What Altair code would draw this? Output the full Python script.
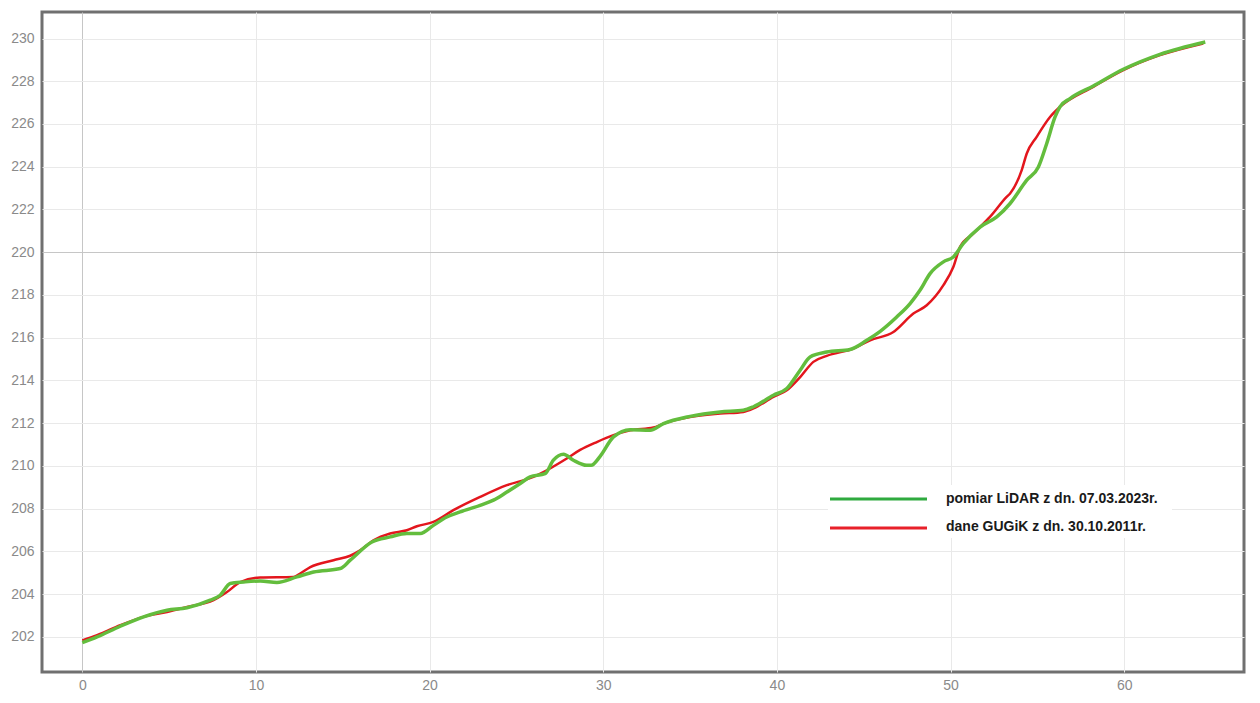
import altair as alt
import pandas as pd

# LiDAR survey (green)
lidar_x = [0, 0.85, 2.19, 3.53, 4.88, 6.03, 7.37, 7.94, 8.52, 9.29, 10.25, 11.21, 12.36,
           13.32, 14.85, 15.43, 16.68, 17.73, 18.69, 19.46, 20.22, 20.99, 21.76, 22.91,
           23.68, 24.45, 25.22, 25.79, 26.65, 27.13, 27.71, 28.28, 29.05, 29.3, 29.82,
           30.59, 31.55, 32.7, 33.47, 35.0, 36.73, 38.07, 38.65, 39.8, 40.57, 41.34,
           41.91, 42.87, 44.21, 45.18, 45.95, 46.9, 47.67, 48.24, 48.82, 49.59, 50.16,
           50.74, 51.7, 52.66, 53.43, 54.39, 55.06, 55.54, 56.02, 56.3, 56.88, 58.22,
           59.95, 62.06, 64.67]
lidar_y = [201.73, 202.0, 202.5, 202.94, 203.25, 203.37, 203.72, 203.95, 204.5, 204.57,
           204.62, 204.55, 204.81, 205.04, 205.2, 205.59, 206.44, 206.68, 206.84, 206.84,
           207.22, 207.61, 207.85, 208.16, 208.4, 208.78, 209.18, 209.49, 209.64, 210.27,
           210.55, 210.27, 210.03, 210.03, 210.45, 211.36, 211.7, 211.67, 211.98, 212.32,
           212.53, 212.61, 212.77, 213.31, 213.62, 214.48, 215.1, 215.33, 215.45, 215.88,
           216.3, 216.97, 217.6, 218.22, 219.0, 219.55, 219.78, 220.41, 221.18, 221.65,
           222.28, 223.37, 223.99, 225.09, 226.33, 226.8, 227.19, 227.78, 228.56, 229.26,
           229.84]

# GUGiK data (red)
gugik_x = [0, 0.85, 2.19, 3.53, 4.88, 6.03, 7.56, 8.33, 9.1, 10.25, 12.16, 12.55, 13.13,
           14.47, 15.43, 16.0, 16.77, 17.73, 18.69, 19.27, 20.22, 21.37, 22.91, 24.45,
           25.98, 26.75, 27.9, 28.67, 29.63, 30.59, 31.55, 32.89, 33.47, 35.0, 36.73,
           38.07, 38.65, 39.8, 40.57, 41.34, 42.1, 42.87, 44.4, 45.37, 46.71, 47.86,
           48.63, 49.59, 50.16, 50.55, 51.31, 51.7, 52.27, 53.23, 53.43, 54.1, 54.39,
           54.96, 55.73, 56.3, 58.22, 59.95, 62.06, 64.55]
gugik_y = [201.84, 202.08, 202.55, 202.94, 203.17, 203.4, 203.72, 204.1, 204.57, 204.78,
           204.8, 204.97, 205.27, 205.59, 205.8, 206.05, 206.52, 206.84, 206.99, 207.18,
           207.38, 207.93, 208.55, 209.1, 209.49, 209.8, 210.35, 210.75, 211.12, 211.44,
           211.67, 211.8, 211.98, 212.29, 212.45, 212.53, 212.69, 213.23, 213.54, 214.16,
           214.87, 215.15, 215.49, 215.88, 216.27, 217.13, 217.52, 218.46, 219.31, 220.25,
           220.87, 221.18, 221.65, 222.59, 222.75, 223.84, 224.62, 225.4, 226.33, 226.8,
           227.74, 228.52, 229.22, 229.77]

x_ticks = [0, 10, 20, 30, 40, 50, 60]
y_ticks = list(range(202, 231, 2))
legend_labels = ["pomiar LiDAR z dn. 07.03.2023r.", "dane GUGiK z dn. 30.10.2011r."]

df_lidar = pd.DataFrame({"d": lidar_x, "h": lidar_y})
df_gugik = pd.DataFrame({"d": gugik_x, "h": gugik_y})
one = pd.DataFrame({"k": [0]})

FONT = "Liberation Sans"
xscale = alt.Scale(domain=[-2.32, 66.9], nice=False, zero=False)
yscale = alt.Scale(domain=[200.36, 231.24], nice=False, zero=False)

xaxis = alt.Axis(values=x_ticks, title=None, domain=False, ticks=False,
                 labelColor="#8a8a8a", labelFontSize=14, labelFont=FONT, labelPadding=6,
                 gridColor={"condition": {"test": "datum.value === 0", "value": "#c6c6c6"},
                            "value": "#e9e9e9"})
yaxis = alt.Axis(values=y_ticks, title=None, domain=False, ticks=False,
                 labelColor="#8a8a8a", labelFontSize=14, labelFont=FONT, labelPadding=8,
                 gridColor={"condition": {"test": "datum.value === 220", "value": "#c6c6c6"},
                            "value": "#e9e9e9"})

red = alt.Chart(df_gugik).mark_line(color="#E3161D", strokeWidth=2.5, interpolate="monotone").encode(
    x=alt.X("d:Q", scale=xscale, axis=xaxis),
    y=alt.Y("h:Q", scale=yscale, axis=yaxis),
)
green = alt.Chart(df_lidar).mark_line(color="#63BD3D", strokeWidth=3.5, interpolate="monotone").encode(
    x=alt.X("d:Q", scale=xscale),
    y=alt.Y("h:Q", scale=yscale),
)

box = alt.Chart(one).mark_rect(fill="white").encode(
    x=alt.value(786), x2=alt.value(1130), y=alt.value(473), y2=alt.value(526))
leg_g = alt.Chart(one).mark_rule(color="#2FAA3F", strokeWidth=3).encode(
    x=alt.value(788), x2=alt.value(885), y=alt.value(487))
leg_r = alt.Chart(one).mark_rule(color="#E8202A", strokeWidth=3).encode(
    x=alt.value(788), x2=alt.value(885), y=alt.value(516))
txt_g = alt.Chart(one).mark_text(align="left", baseline="middle", font=FONT, fontSize=14,
                                 fontWeight="bold", color="#1a1a1a").encode(
    x=alt.value(904), y=alt.value(487), text=alt.value(legend_labels[0]))
txt_r = alt.Chart(one).mark_text(align="left", baseline="middle", font=FONT, fontSize=14,
                                 fontWeight="bold", color="#1a1a1a").encode(
    x=alt.value(904), y=alt.value(515), text=alt.value(legend_labels[1]))

chart = alt.layer(red, green, box, leg_g, leg_r, txt_g, txt_r).properties(
    width=1202, height=660,
    autosize=alt.AutoSizeParams(type="none"),
    padding={"left": 34, "top": 4, "right": 4, "bottom": 22},
    background="white",
).configure_view(stroke="#707070", strokeWidth=3)

chart.save("out.html", embed_options={"renderer": "svg", "actions": False})
